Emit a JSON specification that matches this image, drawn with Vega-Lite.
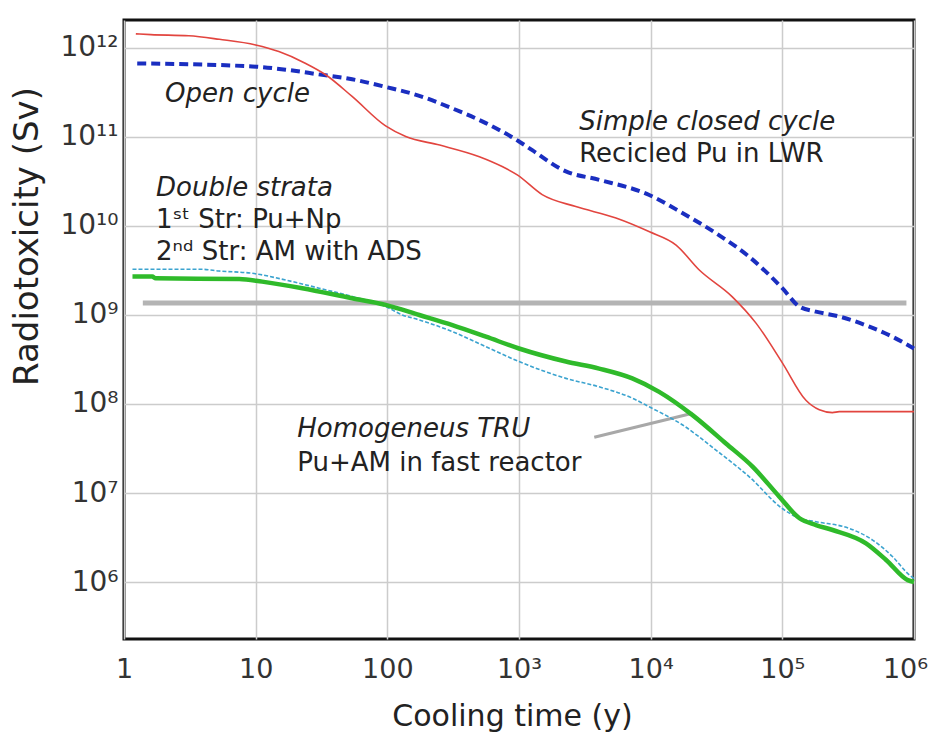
{
  "$schema": "https://vega.github.io/schema/vega-lite/v6.json",
  "width": 790,
  "height": 619,
  "autosize": "none",
  "padding": {"left": 124, "top": 20, "right": 19, "bottom": 104},
  "background": "white",
  "config": {
    "view": {"stroke": "#111111", "strokeWidth": 3},
    "axis": {
      "labelFont": "DejaVu Sans",
      "titleFont": "DejaVu Sans",
      "labelColor": "#333333",
      "titleColor": "#222222",
      "titleFontWeight": "normal",
      "gridColor": "#cccccc",
      "gridWidth": 1.5,
      "domain": false,
      "ticks": false
    }
  },
  "datasets": {
    "curves": [
      {"series": "closed", "t": 1.23, "v": 1.44e12},
      {"series": "closed", "t": 1.6, "v": 1.41e12},
      {"series": "closed", "t": 3.1, "v": 1.37e12},
      {"series": "closed", "t": 5.3, "v": 1.25e12},
      {"series": "closed", "t": 10, "v": 1.08e12},
      {"series": "closed", "t": 15, "v": 9.1e11},
      {"series": "closed", "t": 24, "v": 6.7e11},
      {"series": "closed", "t": 34, "v": 5.0e11},
      {"series": "closed", "t": 54, "v": 2.85e11},
      {"series": "closed", "t": 97, "v": 1.33e11},
      {"series": "closed", "t": 138, "v": 1.01e11},
      {"series": "closed", "t": 250, "v": 8.1e10},
      {"series": "closed", "t": 500, "v": 6.0e10},
      {"series": "closed", "t": 745, "v": 4.65e10},
      {"series": "closed", "t": 970, "v": 3.75e10},
      {"series": "closed", "t": 1500, "v": 2.25e10},
      {"series": "closed", "t": 2700, "v": 1.65e10},
      {"series": "closed", "t": 5450, "v": 1.23e10},
      {"series": "closed", "t": 9800, "v": 8.6e9},
      {"series": "closed", "t": 15600, "v": 6.1e9},
      {"series": "closed", "t": 23400, "v": 3.2e9},
      {"series": "closed", "t": 41700, "v": 1.6e9},
      {"series": "closed", "t": 63100, "v": 8.1e8},
      {"series": "closed", "t": 100000, "v": 2.9e8},
      {"series": "closed", "t": 151000, "v": 1.1e8},
      {"series": "closed", "t": 191000, "v": 8.6e7},
      {"series": "closed", "t": 240000, "v": 8.0e7},
      {"series": "closed", "t": 271000, "v": 8.2e7},
      {"series": "closed", "t": 1000000, "v": 8.2e7},

      {"series": "open", "t": 1.26, "v": 6.7e11},
      {"series": "open", "t": 9.4, "v": 6.2e11},
      {"series": "open", "t": 16.9, "v": 5.7e11},
      {"series": "open", "t": 30, "v": 5.05e11},
      {"series": "open", "t": 54, "v": 4.45e11},
      {"series": "open", "t": 97, "v": 3.65e11},
      {"series": "open", "t": 175, "v": 2.9e11},
      {"series": "open", "t": 310, "v": 2.1e11},
      {"series": "open", "t": 560, "v": 1.43e11},
      {"series": "open", "t": 1000, "v": 8.9e10},
      {"series": "open", "t": 1260, "v": 7.1e10},
      {"series": "open", "t": 2270, "v": 4.1e10},
      {"series": "open", "t": 4060, "v": 3.3e10},
      {"series": "open", "t": 9750, "v": 2.23e10},
      {"series": "open", "t": 17400, "v": 1.4e10},
      {"series": "open", "t": 31300, "v": 8.3e9},
      {"series": "open", "t": 56100, "v": 4.5e9},
      {"series": "open", "t": 100000, "v": 2.0e9},
      {"series": "open", "t": 135000, "v": 1.24e9},
      {"series": "open", "t": 180000, "v": 1.09e9},
      {"series": "open", "t": 271000, "v": 9.6e8},
      {"series": "open", "t": 458000, "v": 7.4e8},
      {"series": "open", "t": 685000, "v": 5.7e8},
      {"series": "open", "t": 1000000, "v": 4.2e8},

      {"series": "homog", "t": 1.16, "v": 2.7e9},
      {"series": "homog", "t": 1.64, "v": 2.7e9},
      {"series": "homog", "t": 1.74, "v": 2.58e9},
      {"series": "homog", "t": 7.5, "v": 2.54e9},
      {"series": "homog", "t": 11.2, "v": 2.37e9},
      {"series": "homog", "t": 22.6, "v": 2.0e9},
      {"series": "homog", "t": 54, "v": 1.54e9},
      {"series": "homog", "t": 97, "v": 1.3e9},
      {"series": "homog", "t": 175, "v": 1.0e9},
      {"series": "homog", "t": 312, "v": 7.7e8},
      {"series": "homog", "t": 561, "v": 5.7e8},
      {"series": "homog", "t": 1000, "v": 4.2e8},
      {"series": "homog", "t": 2270, "v": 3.0e8},
      {"series": "homog", "t": 4060, "v": 2.5e8},
      {"series": "homog", "t": 7250, "v": 1.94e8},
      {"series": "homog", "t": 11600, "v": 1.37e8},
      {"series": "homog", "t": 20800, "v": 7.5e7},
      {"series": "homog", "t": 37300, "v": 3.6e7},
      {"series": "homog", "t": 59400, "v": 1.98e7},
      {"series": "homog", "t": 94900, "v": 9.1e6},
      {"series": "homog", "t": 135000, "v": 5.2e6},
      {"series": "homog", "t": 180000, "v": 4.37e6},
      {"series": "homog", "t": 241000, "v": 3.84e6},
      {"series": "homog", "t": 432000, "v": 2.72e6},
      {"series": "homog", "t": 614000, "v": 1.77e6},
      {"series": "homog", "t": 896000, "v": 1.05e6},
      {"series": "homog", "t": 1000000, "v": 1.0e6},

      {"series": "double", "t": 1.16, "v": 3.26e9},
      {"series": "double", "t": 3.94, "v": 3.26e9},
      {"series": "double", "t": 5.27, "v": 3.12e9},
      {"series": "double", "t": 9.44, "v": 2.94e9},
      {"series": "double", "t": 16.9, "v": 2.47e9},
      {"series": "double", "t": 30.3, "v": 2.0e9},
      {"series": "double", "t": 54.3, "v": 1.61e9},
      {"series": "double", "t": 97.5, "v": 1.24e9},
      {"series": "double", "t": 130, "v": 1.0e9},
      {"series": "double", "t": 175, "v": 8.8e8},
      {"series": "double", "t": 312, "v": 6.5e8},
      {"series": "double", "t": 561, "v": 4.4e8},
      {"series": "double", "t": 1000, "v": 3.0e8},
      {"series": "double", "t": 2270, "v": 1.94e8},
      {"series": "double", "t": 4060, "v": 1.56e8},
      {"series": "double", "t": 7280, "v": 1.16e8},
      {"series": "double", "t": 9750, "v": 9.3e7},
      {"series": "double", "t": 17500, "v": 5.8e7},
      {"series": "double", "t": 31300, "v": 3.04e7},
      {"series": "double", "t": 56100, "v": 1.52e7},
      {"series": "double", "t": 100000, "v": 6.7e6},
      {"series": "double", "t": 135000, "v": 5.2e6},
      {"series": "double", "t": 180000, "v": 4.76e6},
      {"series": "double", "t": 323000, "v": 4.0e6},
      {"series": "double", "t": 485000, "v": 2.96e6},
      {"series": "double", "t": 689000, "v": 1.92e6},
      {"series": "double", "t": 923000, "v": 1.2e6},
      {"series": "double", "t": 1000000, "v": 1.1e6},

      {"series": "reference", "t": 1.39, "v": 1.36e9},
      {"series": "reference", "t": 876000, "v": 1.36e9},

      {"series": "pointer", "t": 3730, "v": 4.23e7},
      {"series": "pointer", "t": 20800, "v": 7.87e7}
    ],
    "notes": [
      {"role": "heading", "t": 2.05, "v": 2.47e11, "label": "Open cycle"},
      {"role": "heading", "t": 2865, "v": 1.2e11, "label": "Simple closed cycle"},
      {"role": "detail", "t": 2865, "v": 5.17e10, "label": "Recicled Pu in LWR"},
      {"role": "heading", "t": 1.75, "v": 2.17e10, "label": "Double strata"},
      {"role": "detail", "t": 1.75, "v": 9.38e9, "label": "1ˢᵗ Str: Pu+Np"},
      {"role": "detail", "t": 1.75, "v": 4.1e9, "label": "2ⁿᵈ Str: AM with ADS"},
      {"role": "heading", "t": 20.7, "v": 4.3e7, "label": "Homogeneus TRU"},
      {"role": "detail", "t": 20.7, "v": 1.77e7, "label": "Pu+AM in fast reactor"}
    ]
  },
  "encoding": {
    "x": {
      "field": "t",
      "type": "quantitative",
      "scale": {"type": "log", "domain": [1, 1000000], "nice": false},
      "axis": {
        "title": "Cooling time (y)",
        "values": [1, 10, 100, 1000, 10000, 100000, 1000000],
        "labelExpr": "['1','10','100','10³','10⁴','10⁵','10⁶'][round(log(datum.value)/LN10)]",
        "labelFontSize": 27,
        "labelPadding": 30,
        "labelBaseline": "middle",
        "labelOffset": {"expr": "datum.value >= 1000000 ? -9 : 0"},
        "labelFlush": false,
        "labelOverlap": false,
        "titleFontSize": 30,
        "titleX": 388,
        "titleY": 77,
        "titleBaseline": "middle",
        "titleAlign": "center"
      }
    },
    "y": {
      "field": "v",
      "type": "quantitative",
      "scale": {"type": "log", "domain": [229000, 2060000000000], "nice": false},
      "axis": {
        "title": "Radiotoxicity (Sv)",
        "values": [1000000, 10000000, 100000000, 1000000000, 10000000000, 100000000000, 1000000000000],
        "labelExpr": "['10⁶','10⁷','10⁸','10⁹','10¹⁰','10¹¹','10¹²'][round(log(datum.value)/LN10)-6]",
        "labelFontSize": 28,
        "labelPadding": 6,
        "labelFlush": false,
        "labelOverlap": false,
        "titleFontSize": 34,
        "titleX": -97,
        "titleY": 216,
        "titleBaseline": "middle",
        "titleAlign": "center",
        "titleAngle": -90
      }
    }
  },
  "layer": [
    {
      "data": {"name": "curves"},
      "transform": [{"filter": "datum.series === 'reference'"}],
      "mark": {"type": "line", "color": "#b4b4b4", "strokeWidth": 5, "strokeCap": "butt"}
    },
    {
      "data": {"name": "curves"},
      "transform": [{"filter": "datum.series === 'pointer'"}],
      "mark": {"type": "line", "color": "#a8a8a8", "strokeWidth": 3}
    },
    {
      "data": {"name": "curves"},
      "transform": [{"filter": "datum.series === 'double'"}],
      "mark": {"type": "line", "color": "#3ba3cf", "strokeWidth": 1.6, "strokeDash": [4, 2], "interpolate": "monotone"}
    },
    {
      "data": {"name": "curves"},
      "transform": [{"filter": "datum.series === 'homog'"}],
      "mark": {"type": "line", "color": "#2fba2a", "strokeWidth": 4.5, "interpolate": "monotone"}
    },
    {
      "data": {"name": "curves"},
      "transform": [{"filter": "datum.series === 'open'"}],
      "mark": {"type": "line", "color": "#1a2ec0", "strokeWidth": 4, "strokeDash": [9, 5], "interpolate": "monotone"}
    },
    {
      "data": {"name": "curves"},
      "transform": [{"filter": "datum.series === 'closed'"}],
      "mark": {"type": "line", "color": "#e2453f", "strokeWidth": 1.6, "interpolate": "monotone"}
    },
    {
      "data": {"name": "notes"},
      "transform": [{"filter": "datum.role === 'heading'"}],
      "mark": {"type": "text", "font": "DejaVu Sans", "fontStyle": "italic", "fontSize": 26, "align": "left", "baseline": "alphabetic", "color": "#222222"},
      "encoding": {"text": {"field": "label"}}
    },
    {
      "data": {"name": "notes"},
      "transform": [{"filter": "datum.role === 'detail'"}],
      "mark": {"type": "text", "font": "DejaVu Sans", "fontSize": 26, "align": "left", "baseline": "alphabetic", "color": "#222222"},
      "encoding": {"text": {"field": "label"}}
    }
  ]
}
